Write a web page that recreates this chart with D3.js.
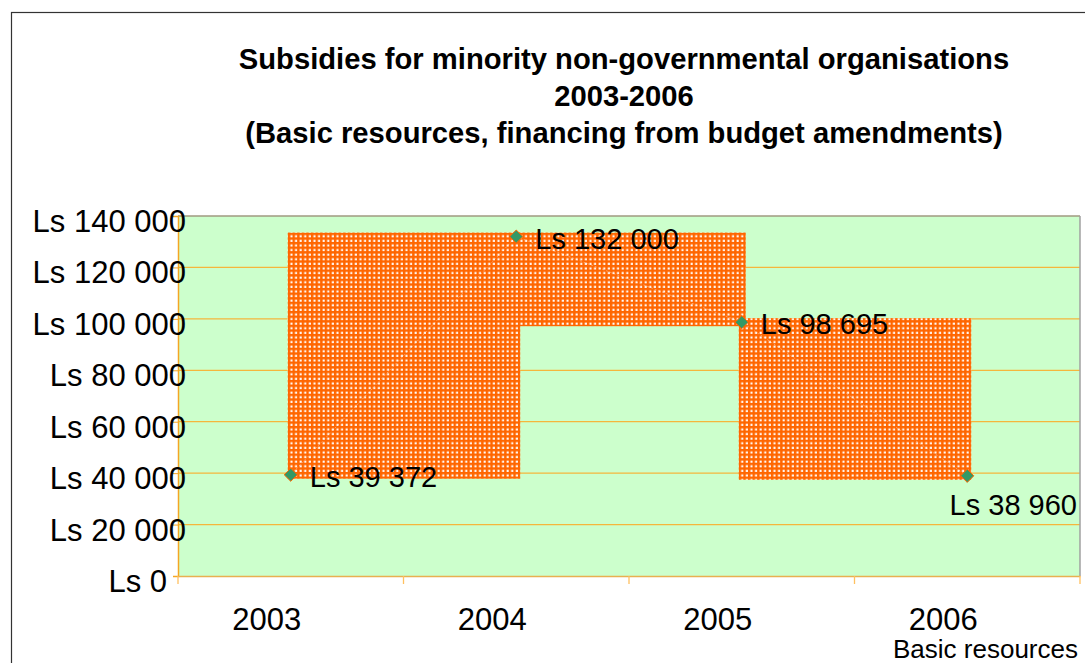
<!DOCTYPE html>
<html>
<head>
<meta charset="utf-8">
<script src="https://cdn.jsdelivr.net/npm/d3@7"></script>
<style>
  body { margin: 0; background: #ffffff; }
  svg { display: block; font-family: "Liberation Sans", Arial, sans-serif; }
</style>
</head>
<body>
<div id="cnt"></div>
<script>
// datos
let years = ["2003", "2004", "2005", "2006"];
let valores = [39372, 132000, 98695, 38960];
let etiquetas = ["Ls 39 372", "Ls 132 000", "Ls 98 695", "Ls 38 960"];
let ticksY = [0, 20000, 40000, 60000, 80000, 100000, 120000, 140000];
let titulo = ["Subsidies for minority non-governmental organisations", "2003-2006", "(Basic resources, financing from budget amendments)"];
let serie = "Basic resources";

let ancho = 1085;
let largo = 663;
let izq = 178, der = 1080, arriba = 216, abajo = 576;

let fmt = v => "Ls " + d3.format(",")(v).replace(/,/g, " ");

let svg = d3.select('#cnt')
    .append("svg")
    .attr('width', ancho)
    .attr('height', largo)

let x = d3.scaleBand().domain(years).range([izq, der]).padding(0);
let y = d3.scaleLinear().domain([0, 140000]).range([abajo, arriba]);
let cx = d => x(d) + x.bandwidth() / 2;

// marco exterior
svg.append("rect")
    .attr('x', 11.5).attr('y', 12.5)
    .attr('width', ancho).attr('height', largo)
    .style('fill', 'none')
    .style('stroke', '#333333')
    .style('stroke-width', 1.2)

// titulo
svg.append("g").selectAll("text")
    .data(titulo).enter()
    .append("text")
    .attr("x", 624)
    .attr("y", (d, i) => 69 + i * 37)
    .attr("text-anchor", "middle")
    .style("font-weight", "bold")
    .style("font-size", "29.2px")
    .text(d => d)

// patron de barras
let pat = svg.append("defs").append("pattern")
    .attr("id", "trama")
    .attr("patternUnits", "userSpaceOnUse")
    .attr("width", 4.6).attr("height", 4.6)
pat.append("rect").attr("width", 4.6).attr("height", 4.6).style("fill", "#ff6600")
pat.append("rect").attr("x", 0.6).attr("y", 0.6).attr("width", 2.1).attr("height", 2.1).style("fill", "#ffffff")

// fondo del area
svg.append("rect")
    .attr('x', izq).attr('y', arriba)
    .attr('width', der - izq).attr('height', abajo - arriba)
    .style('fill', '#ccffcc')

// lineas de cuadricula
svg.append("g").selectAll("line")
    .data(ticksY.slice(1, -1)).enter()
    .append("line")
    .attr("x1", izq).attr("x2", der)
    .attr("y1", d => y(d)).attr("y2", d => y(d))
    .style("stroke", "#f5b63c")
    .style("stroke-width", 1.3)

// bordes
svg.append("line").attr("x1", izq).attr("x2", der).attr("y1", arriba).attr("y2", arriba)
    .style("stroke", "#a09a80").style("stroke-width", 1.5)
svg.append("line").attr("x1", der).attr("x2", der).attr("y1", arriba).attr("y2", abajo)
    .style("stroke", "#a0a0a0").style("stroke-width", 1.5)

// barras entre puntos
let pares = d3.pairs(years.map((d, i) => ({ año: d, v: valores[i] })));
svg.append("g").selectAll("rect")
    .data(pares).enter()
    .append("rect")
    .attr("x", d => cx(d[0].año) - 3)
    .attr("y", d => y(Math.max(d[0].v, d[1].v)) - 4)
    .attr("width", d => cx(d[1].año) - cx(d[0].año) + 7)
    .attr("height", d => Math.abs(y(d[0].v) - y(d[1].v)) + 8)
    .style("fill", "url(#trama)")

// linea tenue de la serie
svg.append("path")
    .datum(valores)
    .attr("d", d3.line().x((d, i) => cx(years[i])).y(d => y(d)))
    .style("fill", "none")
    .style("stroke", "#ffffff")
    .style("stroke-opacity", 0.35)
    .style("stroke-dasharray", "2 2")
    .style("stroke-width", 1)

// eje y
let ejeY = svg.append("g")
    .attr("transform", "translate(" + izq + ",0)")
    .call(d3.axisLeft(y).tickValues(ticksY).tickSize(5).tickFormat(""))
ejeY.select(".domain").style("stroke", "#f5a623").style("stroke-width", 1.5)
ejeY.selectAll(".tick line").style("stroke", "#f5a623")

svg.append("g").selectAll("text")
    .data(ticksY).enter()
    .append("text")
    .attr("x", d => d === 0 ? 167 : 186)
    .attr("y", d => y(d) + 16)
    .attr("text-anchor", "end")
    .style("font-size", "31px")
    .text(d => fmt(d))

// eje x
let ejeX = svg.append("g")
    .attr("transform", "translate(0," + abajo + ")")
    .call(d3.axisBottom(x).tickSize(0).tickFormat(""))
ejeX.select(".domain").style("stroke", "#e8b050").style("stroke-width", 1.5)
svg.append("g").selectAll("line")
    .data(years.concat(["fin"])).enter()
    .append("line")
    .attr("x1", (d, i) => i < years.length ? x(d) : der)
    .attr("x2", (d, i) => i < years.length ? x(d) : der)
    .attr("y1", abajo).attr("y2", abajo + 8)
    .style("stroke", "#ffc060")
    .style("stroke-width", 1.3)

svg.append("g").selectAll("text")
    .data(years).enter()
    .append("text")
    .attr("x", d => cx(d) - 24)
    .attr("y", 630)
    .attr("text-anchor", "middle")
    .style("font-size", "31px")
    .text(d => d)

// marcadores
svg.append("g").selectAll("path")
    .data(valores).enter()
    .append("path")
    .attr("d", d3.symbol(d3.symbolDiamond2, 110))
    .attr("transform", (d, i) => "translate(" + cx(years[i]) + "," + y(d) + ")")
    .style("fill", "#339966")
    .style("stroke", "#ff6600")
    .style("stroke-width", 1)

// etiquetas de datos
svg.append("g").selectAll("text")
    .data(valores).enter()
    .append("text")
    .style("font-size", "29px")
    .text((d, i) => etiquetas[i])
    .each(function (d, i) {
        let t = d3.select(this);
        let px = cx(years[i]) + 19;
        let w = this.getComputedTextLength();
        if (px + w > der) {
            t.attr("x", der - 3).attr("y", y(d) + 39).attr("text-anchor", "end");
        } else {
            t.attr("x", px).attr("y", y(d) + 12);
        }
    })

// leyenda
svg.append("text")
    .attr("x", 1078)
    .attr("y", 658)
    .attr("text-anchor", "end")
    .style("font-size", "26px")
    .text(serie)
</script>
</body>
</html>
